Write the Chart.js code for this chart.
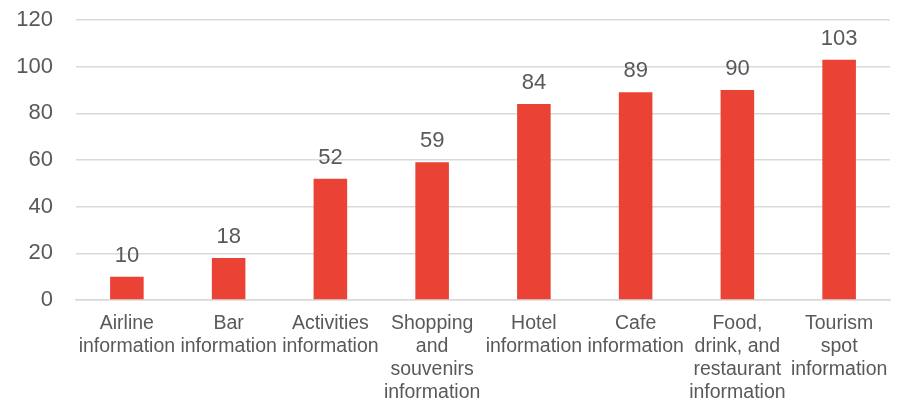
<!DOCTYPE html>
<html>
<head>
<meta charset="utf-8">
<script src="https://cdn.jsdelivr.net/npm/chart.js@4/dist/chart.umd.min.js"></script>
<style>
  html, body { margin: 0; padding: 0; background: #fff; }
  #wrap { width: 899px; height: 400px; }
</style>
</head>
<body>
<div id="wrap"><canvas id="chart"></canvas></div>
<script>
const categories = [
  ['Airline', 'information'],
  ['Bar', 'information'],
  ['Activities', 'information'],
  ['Shopping', 'and', 'souvenirs', 'information'],
  ['Hotel', 'information'],
  ['Cafe', 'information'],
  ['Food,', 'drink, and', 'restaurant', 'information'],
  ['Tourism', 'spot', 'information']
];
const counts = [10, 18, 52, 59, 84, 89, 90, 103];
const yTicks = [0, 20, 40, 60, 80, 100, 120];

const fontFamily = '"Liberation Sans", Arial, sans-serif';
const textColor = '#595959';
const gridColor = '#d9d9d9';
const barColor = '#ea4335';

// writes each bar's value just above it
const valueLabels = {
  id: 'valueLabels',
  afterDatasetsDraw(chart) {
    const ctx = chart.ctx;
    const meta = chart.getDatasetMeta(0);
    ctx.save();
    ctx.font = '22px ' + fontFamily;
    ctx.fillStyle = textColor;
    ctx.textAlign = 'center';
    ctx.textBaseline = 'alphabetic';
    meta.data.forEach((bar, i) => {
      ctx.fillText(String(counts[i]), bar.x, bar.y - 15);
    });
    ctx.restore();
  }
};

new Chart(document.getElementById('chart'), {
  type: 'bar',
  data: {
    labels: categories,
    datasets: [{
      data: counts,
      backgroundColor: barColor,
      barPercentage: 0.33,
      categoryPercentage: 1
    }]
  },
  options: {
    responsive: true,
    maintainAspectRatio: false,
    animation: false,
    layout: { padding: { top: 20, right: 9, left: 0, bottom: 0 } },
    plugins: { legend: { display: false }, tooltip: { enabled: false } },
    scales: {
      x: {
        grid: { display: false },
        border: { color: gridColor, width: 1.5 },
        ticks: {
          color: textColor,
          font: { family: fontFamily, size: 19.5, lineHeight: 1.18 },
          maxRotation: 0,
          autoSkip: false,
          padding: 4
        },
        afterFit(scale) {
          scale.height = 100;
          scale.paddingLeft = 0;
          scale.paddingRight = 0;
        }
      },
      y: {
        min: 0,
        max: 120,
        afterBuildTicks(scale) { scale.ticks = yTicks.map(v => ({ value: v })); },
        grid: { color: gridColor, lineWidth: 1.5, drawTicks: false },
        border: { display: false },
        ticks: {
          color: textColor,
          font: { family: fontFamily, size: 22 },
          padding: 23
        },
        afterFit(scale) {
          scale.width = 76;
          scale.paddingTop = 0;
          scale.paddingBottom = 0;
        }
      }
    }
  },
  plugins: [valueLabels]
});
</script>
</body>
</html>
